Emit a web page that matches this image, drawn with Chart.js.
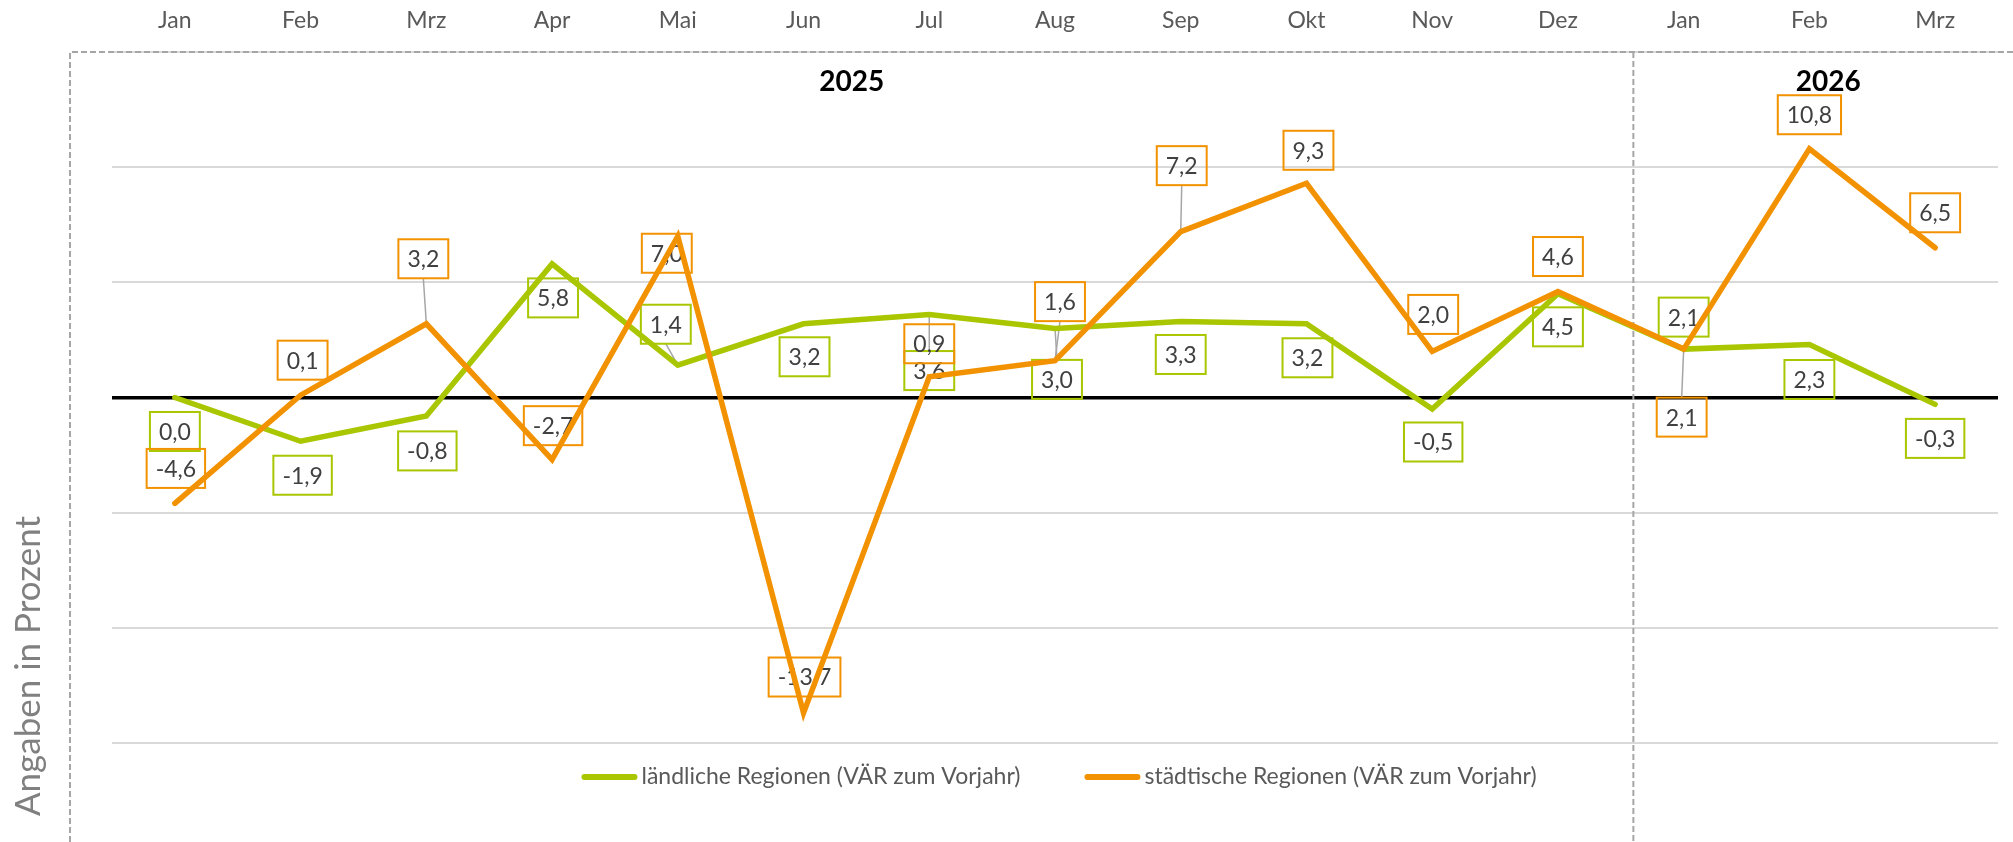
<!DOCTYPE html>
<html lang="de">
<head>
<meta charset="utf-8">
<title>ländliche und städtische Regionen – VÄR zum Vorjahr</title>
<script src="https://cdn.jsdelivr.net/npm/chart.js@4.4.1/dist/chart.umd.min.js"></script>
<style>
    html, body { margin: 0; padding: 0; background: #fff; overflow: hidden; }
    #wrap { width: 2013px; height: 842px; }
</style>
</head>
<body>
<div id="wrap"><canvas id="regionChart" width="2013" height="842"></canvas></div>
<script>
const months = ['Jan', 'Feb', 'Mrz', 'Apr', 'Mai', 'Jun', 'Jul', 'Aug', 'Sep', 'Okt', 'Nov', 'Dez', 'Jan', 'Feb', 'Mrz'];
const years = ['2025', '2026'];
const laendlich = [0.0, -1.9, -0.8, 5.8, 1.4, 3.2, 3.6, 3.0, 3.3, 3.2, -0.5, 4.5, 2.1, 2.3, -0.3];
const staedtisch = [-4.6, 0.1, 3.2, -2.7, 7.0, -13.7, 0.9, 1.6, 7.2, 9.3, 2.0, 4.6, 2.1, 10.8, 6.5];
const seriesNames = ['ländliche Regionen (VÄR zum Vorjahr)', 'städtische Regionen (VÄR zum Vorjahr)'];
const yTitle = 'Angaben in Prozent';

// where each value box sits relative to its point (px), hand-placed like the original
const laendlichLabelPos = [[0, 34], [2, 34], [1, 35], [1, 34], [-12, -41], [1, 33], [0, 56], [2, 51],
    [0, 33], [1, 34], [1, 33], [0, 33], [0, -32], [0, 35], [0, 34]];
const staedtischLabelPos = [[1, -35], [2, -35], [-3, -65], [1, -34], [-11, 17], [1, -36], [0, -33], [5, -59],
    [1, -66], [2, -33], [1, -37], [0, -35], [-2, 68], [0, -34], [0, -35]];

const GREEN = '#a9c600';
const ORANGE = '#f39200';
const FONT = 'Lato, "Open Sans", sans-serif';

function fmt(v) {
    return v.toFixed(1).replace('.', ',');
}

const decorPlugin = {
    id: 'decor',
    beforeDatasetsDraw(chart) {
        const { ctx, chartArea, scales: { x } } = chart;
        const step = x.getPixelForValue(1) - x.getPixelForValue(0);
        const frameLeft = chartArea.left - 42;
        const sepX = (x.getPixelForValue(11) + x.getPixelForValue(12)) / 2 + 0.1 * step;
        const frameRight = x.getPixelForValue(14) + 0.7 * step;

        // dashed frame around the year blocks
        ctx.save();
        ctx.strokeStyle = '#a6a6a6';
        ctx.lineWidth = 2;
        ctx.setLineDash([6, 3]);
        ctx.beginPath();
        ctx.moveTo(frameLeft, chart.height);
        ctx.lineTo(frameLeft, chartArea.top);
        ctx.lineTo(chart.width, chartArea.top);
        ctx.moveTo(sepX, chartArea.top);
        ctx.lineTo(sepX, chart.height);
        ctx.stroke();
        ctx.restore();

        // year headings
        ctx.save();
        ctx.fillStyle = '#000';
        ctx.font = `bold 28px ${FONT}`;
        ctx.textAlign = 'center';
        ctx.textBaseline = 'alphabetic';
        ctx.fillText(years[0], (frameLeft + sepX) / 2, chartArea.top + 39);
        ctx.fillText(years[1], (sepX + frameRight) / 2, chartArea.top + 39);
        ctx.restore();

        // value boxes + leader lines
        const positions = [laendlichLabelPos, staedtischLabelPos];
        ctx.save();
        ctx.font = `23px ${FONT}`;
        ctx.textAlign = 'center';
        ctx.textBaseline = 'middle';
        chart.data.datasets.forEach((ds, di) => {
            const meta = chart.getDatasetMeta(di);
            meta.data.forEach((pt, i) => {
                const off = positions[di][i];
                const txt = fmt(ds.data[i]);
                const w = ctx.measureText(txt).width + 18;
                const h = 39;
                const cx = pt.x + off[0];
                const cy = pt.y + off[1];

                if (Math.abs(off[1]) - h / 2 > 18) {
                    const ey = off[1] > 0 ? cy - h / 2 : cy + h / 2;
                    ctx.strokeStyle = '#a6a6a6';
                    ctx.lineWidth = 1.5;
                    ctx.beginPath();
                    ctx.moveTo(pt.x, pt.y);
                    ctx.lineTo(cx, ey);
                    ctx.stroke();
                }

                ctx.strokeStyle = ds.borderColor;
                ctx.lineWidth = 2;
                ctx.strokeRect(cx - w / 2, cy - h / 2, w, h);
                ctx.fillStyle = '#404040';
                ctx.fillText(txt, cx, cy + 1);
            });
        });
        ctx.restore();

        // legend inside the plot
        ctx.save();
        ctx.font = `23px ${FONT}`;
        ctx.textBaseline = 'middle';
        ctx.textAlign = 'left';
        const sample = 56, gapText = 4, gapItem = 64;
        const widths = chart.data.datasets.map(ds => sample + gapText + ctx.measureText(ds.label).width);
        const total = widths.reduce((a, b) => a + b, 0) + gapItem;
        let lx = (chartArea.left + chartArea.right) / 2 - total / 2 + 4;
        const ly = chartArea.bottom - 65;
        chart.data.datasets.forEach((ds, di) => {
            ctx.strokeStyle = ds.borderColor;
            ctx.lineWidth = 6;
            ctx.lineCap = 'round';
            ctx.beginPath();
            ctx.moveTo(lx + 3, ly);
            ctx.lineTo(lx + sample - 3, ly);
            ctx.stroke();
            ctx.fillStyle = '#595959';
            ctx.fillText(ds.label, lx + sample + gapText, ly);
            lx += widths[di] + gapItem;
        });
        ctx.restore();
    },
    afterDraw(chart) {
        const { ctx } = chart;
        ctx.save();
        ctx.translate(40, 666);
        ctx.rotate(-Math.PI / 2);
        ctx.font = `35px ${FONT}`;
        ctx.fillStyle = '#808080';
        ctx.textAlign = 'center';
        ctx.textBaseline = 'alphabetic';
        ctx.fillText(yTitle, 0, 0);
        ctx.restore();
    }
};

const ctx = document.getElementById('regionChart').getContext('2d');
new Chart(ctx, {
    type: 'line',
    data: {
        labels: months,
        datasets: [
            {
                label: seriesNames[0],
                data: laendlich,
                borderColor: GREEN,
                borderWidth: 5.5,
                borderJoinStyle: 'miter',
                borderCapStyle: 'round',
                pointRadius: 0,
                tension: 0,
                order: 2
            },
            {
                label: seriesNames[1],
                data: staedtisch,
                borderColor: ORANGE,
                borderWidth: 5.5,
                borderJoinStyle: 'miter',
                borderCapStyle: 'round',
                pointRadius: 0,
                tension: 0,
                order: 1
            }
        ]
    },
    options: {
        responsive: false,
        animation: false,
        devicePixelRatio: 1,
        layout: { padding: { left: 0, right: 15, top: 0, bottom: 0 } },
        plugins: {
            legend: { display: false },
            tooltip: { enabled: false }
        },
        scales: {
            x: {
                position: 'top',
                offset: true,
                grid: { display: false, drawTicks: false },
                border: { display: false },
                ticks: {
                    color: '#595959',
                    font: { family: FONT, size: 23 },
                    padding: 18,
                    maxRotation: 0,
                    autoSkip: false
                },
                afterFit(scale) { scale.height = 52; }
            },
            y: {
                min: -19.3,
                max: 15,
                border: { display: false },
                grid: {
                    drawTicks: false,
                    color: c => c.tick.value === 0 ? '#000' : (c.tick.value % 5 === 0 ? '#d9d9d9' : 'rgba(0,0,0,0)'),
                    lineWidth: c => c.tick.value === 0 ? 3.5 : 2
                },
                ticks: { display: false, stepSize: 5 },
                afterFit(scale) { scale.width = 112; }
            }
        }
    },
    plugins: [decorPlugin]
});
</script>
</body>
</html>
